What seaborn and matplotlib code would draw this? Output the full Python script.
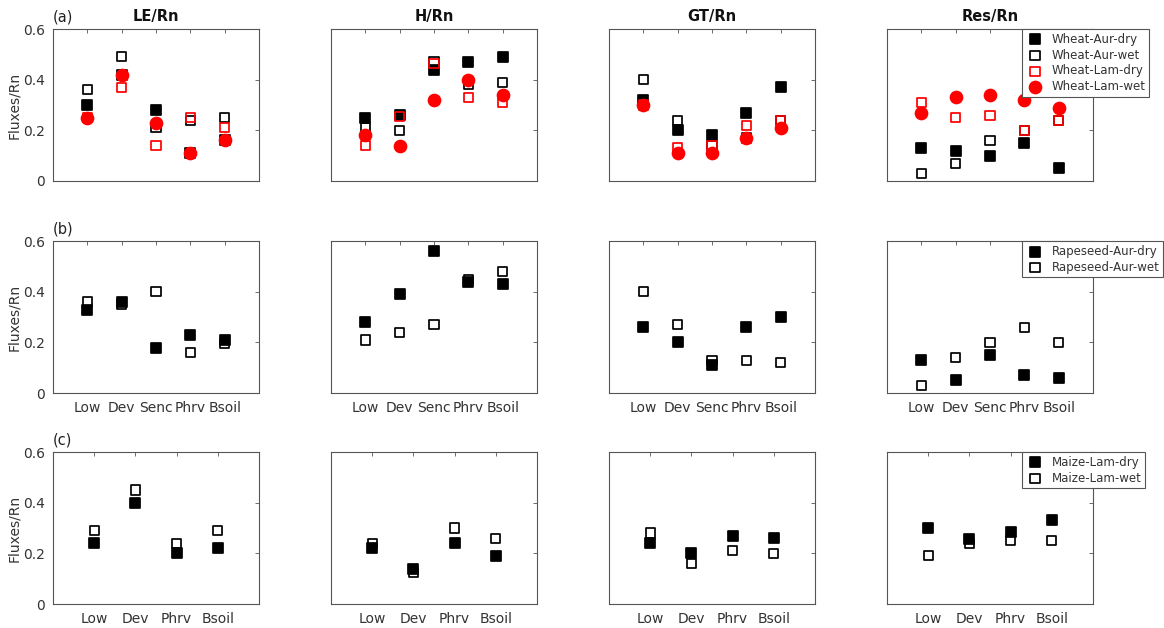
import numpy as np
import pandas as pd
import seaborn as sns
import matplotlib.pyplot as plt

# categorie e titoli
fluxes = ['LE/Rn', 'H/Rn', 'GT/Rn', 'Res/Rn']
stages5 = ['Low', 'Dev', 'Senc', 'Phrv', 'Bsoil']
stages4 = ['Low', 'Dev', 'Phrv', 'Bsoil']

# (a) frumento: una lista per flusso (LE, H, GT, Res)
wheat_aur_dry = [[0.30, 0.42, 0.28, 0.11, 0.16],
                 [0.25, 0.26, 0.44, 0.47, 0.49],
                 [0.32, 0.20, 0.18, 0.27, 0.37],
                 [0.13, 0.12, 0.10, 0.15, 0.05]]
wheat_aur_wet = [[0.36, 0.49, 0.21, 0.24, 0.25],
                 [0.21, 0.20, 0.47, 0.38, 0.39],
                 [0.40, 0.24, 0.14, 0.17, 0.24],
                 [0.03, 0.07, 0.16, 0.20, 0.24]]
wheat_lam_dry = [[0.25, 0.37, 0.14, 0.25, 0.21],
                 [0.14, 0.255, 0.465, 0.33, 0.31],
                 [0.30, 0.13, 0.14, 0.22, 0.24],
                 [0.31, 0.25, 0.26, 0.20, 0.24]]
wheat_lam_wet = [[0.25, 0.42, 0.23, 0.11, 0.16],
                 [0.18, 0.14, 0.32, 0.40, 0.34],
                 [0.30, 0.11, 0.11, 0.17, 0.21],
                 [0.27, 0.33, 0.34, 0.32, 0.29]]

# (b) colza
rapeseed_aur_dry = [[0.33, 0.36, 0.18, 0.23, 0.21],
                    [0.28, 0.39, 0.56, 0.44, 0.43],
                    [0.26, 0.20, 0.11, 0.26, 0.30],
                    [0.13, 0.05, 0.15, 0.07, 0.06]]
rapeseed_aur_wet = [[0.36, 0.35, 0.40, 0.16, 0.195],
                    [0.21, 0.24, 0.27, 0.45, 0.48],
                    [0.40, 0.27, 0.13, 0.13, 0.12],
                    [0.03, 0.14, 0.20, 0.26, 0.20]]

# (c) mais
maize_lam_dry = [[0.24, 0.40, 0.20, 0.22],
                 [0.22, 0.14, 0.24, 0.19],
                 [0.24, 0.20, 0.27, 0.26],
                 [0.30, 0.255, 0.285, 0.33]]
maize_lam_wet = [[0.29, 0.45, 0.24, 0.29],
                 [0.24, 0.125, 0.30, 0.26],
                 [0.28, 0.16, 0.21, 0.20],
                 [0.19, 0.24, 0.25, 0.25]]

# stili dei marker: (etichetta, dati, marker, faccia, bordo, dimensione)
rows = [
    ('(a)', stages5, [('Wheat-Aur-dry', wheat_aur_dry, 's', 'black', 'black', 44),
                      ('Wheat-Aur-wet', wheat_aur_wet, 's', 'none', 'black', 44),
                      ('Wheat-Lam-dry', wheat_lam_dry, 's', 'none', 'red', 44),
                      ('Wheat-Lam-wet', wheat_lam_wet, 'o', 'red', 'red', 74)]),
    ('(b)', stages5, [('Rapeseed-Aur-dry', rapeseed_aur_dry, 's', 'black', 'black', 44),
                      ('Rapeseed-Aur-wet', rapeseed_aur_wet, 's', 'none', 'black', 44)]),
    ('(c)', stages4, [('Maize-Lam-dry', maize_lam_dry, 's', 'black', 'black', 44),
                      ('Maize-Lam-wet', maize_lam_wet, 's', 'none', 'black', 44)]),
]

sns.set_theme(style='white')
plt.rcParams['font.family'] = ['DejaVu Sans']
plt.rcParams['axes.edgecolor'] = '#555555'
plt.rcParams['axes.linewidth'] = 0.8

fig = plt.figure(figsize=(11.64, 6.28), dpi=100)

lefts = [0.0455, 0.2844, 0.5232, 0.762]
bottoms = [0.7118, 0.374, 0.0382]
w, h = 0.177, 0.242

for r, (panel, stages, series) in enumerate(rows):
    for c, flux in enumerate(fluxes):
        ax = fig.add_axes([lefts[c], bottoms[r], w, h])
        for label, data, marker, face, edge, size in series:
            df = pd.DataFrame({'stage': stages, 'value': data[c]})
            sns.scatterplot(data=df, x='stage', y='value', ax=ax, marker=marker,
                            s=size, facecolor=face, edgecolor=edge,
                            linewidth=1.25, label=label, legend=False, zorder=3)
        ax.set_xlim(-1, len(stages))
        ax.set_ylim(0, 0.6)
        ax.set_yticks([0, 0.2, 0.4, 0.6])
        ax.set_yticklabels(['0', '0.2', '0.4', '0.6'])
        ax.set_xlabel('')
        ax.set_ylabel('')
        ax.tick_params(direction='in', length=3, width=0.6, top=True, right=True,
                       colors='#555555', labelcolor='#333333', labelsize=10, pad=6)
        if r == 0:
            ax.tick_params(labelbottom=False)
            ax.set_title(flux, fontsize=10.5, fontweight='bold', pad=6, color='#111111')
        if c == 0:
            ax.set_ylabel('Fluxes/Rn', fontsize=10, color='#333333', labelpad=1)
            ax.text(0.0, 1.03, panel, transform=ax.transAxes, fontsize=10.5,
                    color='#222222', ha='left', va='bottom')
        else:
            ax.tick_params(labelleft=False)
        for sp in ax.spines.values():
            sp.set_visible(True)
        if c == 3:
            leg = ax.legend(loc='upper left', bbox_to_anchor=(0.655, 1.0),
                            borderaxespad=0, fontsize=8.5, frameon=True,
                            fancybox=False, edgecolor='#555555', framealpha=1,
                            labelspacing=0.25, handletextpad=0.6, borderpad=0.3,
                            handlelength=1.6)
            leg.get_frame().set_linewidth(0.8)
            for t in leg.get_texts():
                t.set_color('#333333')

fig.savefig('out.png', dpi=100)
